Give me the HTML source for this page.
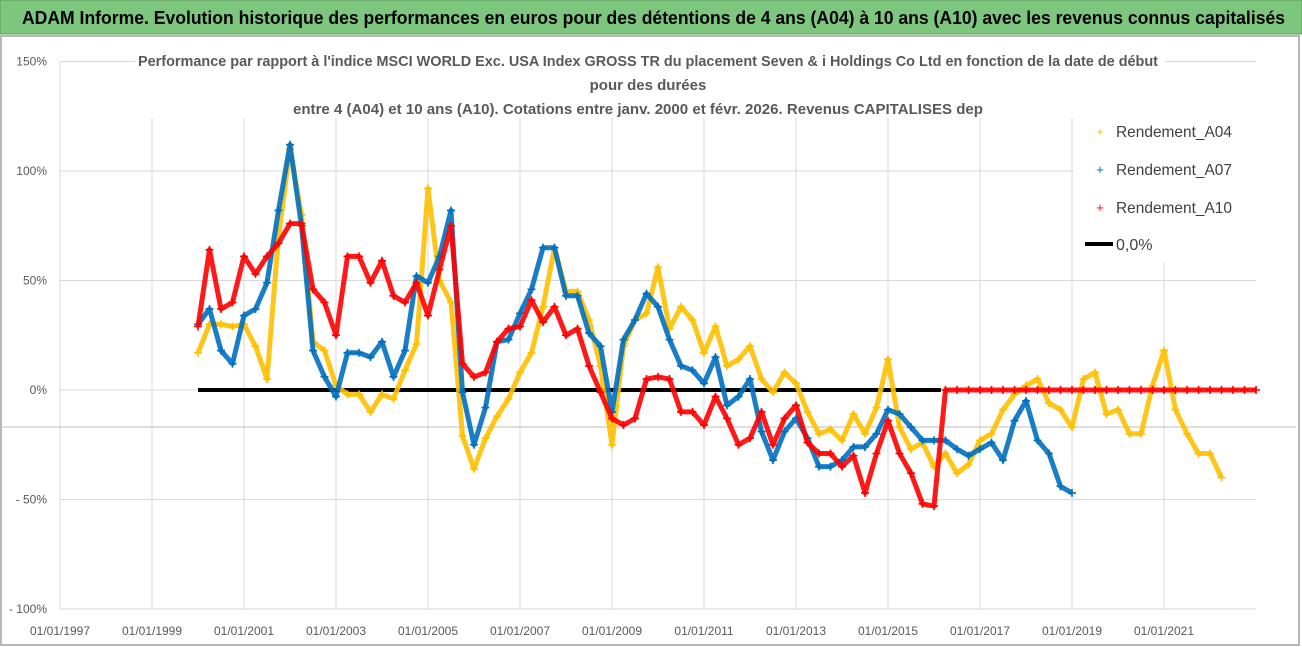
<!DOCTYPE html>
<html>
<head>
<meta charset="utf-8">
<style>
  html, body { margin: 0; padding: 0; background: #fff; }
  svg { display: block; font-family: "Liberation Sans", sans-serif; }
</style>
</head>
<body>
<svg id="chart" width="1302" height="647" viewBox="0 0 1302 647" xmlns="http://www.w3.org/2000/svg">
  <rect x="0" y="0" width="1302" height="647" fill="#fff"/>
  <rect x="0" y="0" width="1302" height="34" fill="#7dc67d" stroke="#5a9a5a" stroke-width="1"/>
  <text x="22" y="24" font-size="18" font-weight="bold" fill="#000" textLength="1263" lengthAdjust="spacingAndGlyphs">ADAM Informe. Evolution historique des performances en euros pour des détentions de 4 ans (A04) à 10 ans (A10) avec les revenus connus capitalisés</text>
  <rect x="1" y="36" width="1298" height="609" fill="none" stroke="#a0a0a0" stroke-width="1.5"/>
  <g id="grid"></g>
  <line x1="0" y1="427" x2="1296" y2="427" stroke="#bdbdbd" stroke-width="1"/>
  <g id="title" font-size="15" font-weight="bold" fill="#595959" text-anchor="middle">
    <rect x="135" y="46" width="1030" height="72" fill="#fff"/>
    <text x="648" y="66" textLength="1020" lengthAdjust="spacingAndGlyphs">Performance par rapport à l'indice MSCI WORLD Exc. USA Index GROSS TR  du placement Seven &amp; i Holdings Co Ltd en fonction de la date de début</text>
    <text x="648" y="90">pour des durées</text>
    <text x="638" y="114" font-size="15" textLength="690" lengthAdjust="spacingAndGlyphs">entre 4 (A04) et 10 ans (A10).  Cotations entre janv. 2000 et févr. 2026. Revenus CAPITALISES dep</text>
  </g>
  <g id="axes"></g>
  <g id="series"></g>
  <g id="legend">
    <rect x="1074" y="112" width="224" height="150" fill="#fff"/>
    <g>
      <text x="1100" y="136" font-size="13" fill="#ffc000" text-anchor="middle">+</text>
      <text x="1116" y="137" font-size="16" fill="#404040" textLength="116" lengthAdjust="spacingAndGlyphs">Rendement_A04</text>
    </g>
    <g>
      <text x="1100" y="174" font-size="13" fill="#0070c0" text-anchor="middle">+</text>
      <text x="1116" y="175" font-size="16" fill="#404040" textLength="116" lengthAdjust="spacingAndGlyphs">Rendement_A07</text>
    </g>
    <g>
      <text x="1100" y="212" font-size="13" fill="#ff0000" text-anchor="middle">+</text>
      <text x="1116" y="213" font-size="16" fill="#404040" textLength="116" lengthAdjust="spacingAndGlyphs">Rendement_A10</text>
    </g>
    <g>
      <line x1="1085" y1="244" x2="1113" y2="244" stroke="#000" stroke-width="4"/>
      <text x="1116" y="250" font-size="16" fill="#404040">0,0%</text>
    </g>
  </g>
</svg>
<script>
const xTickYears = [1997, 1999, 2001, 2003, 2005, 2007, 2009, 2011, 2013, 2015, 2017, 2019, 2021];
const yTicks = [150, 100, 50, 0, -50, -100];
const yTickLabels = ["150%", "100%", "50%", "0%", "- 50%", "- 100%"];
const startYear = 2000.0;
const stepYears = 0.25;
const a04 = [17,30,30,29,30,20,5,70,110,80,22,18,2,-2,-2,-10,-2,-4,9,21,92,50,40,-21,-36,-22,-12,-4,8,17,38,65,45,45,32,11,-25,20,32,35,56,28,38,32,17,29,11,14,20,5,-1,8,3,-10,-20,-18,-23,-11,-20,-8,14,-17,-27,-24,-35,-29,-38,-34,-23,-20,-9,-2,2,5,-6,-9,-17,5,8,-11,-9,-20,-20,2,18,-9,-20,-29,-29,-40];
const a07 = [30,37,18,12,34,37,49,82,112,75,18,6,-3,17,17,15,22,6,18,52,49,61,82,-1,-25,-8,22,23,35,46,65,65,43,43,26,20,-10,23,32,44,38,23,11,9,3,15,-7,-3,5,-19,-32,-19,-13,-22,-35,-35,-32,-26,-26,-20,-9,-11,-17,-23,-23,-23,-27,-30,-27,-24,-32,-14,-5,-23,-29,-44,-47];
const a10 = [29,64,37,40,61,53,61,67,76,76,46,40,25,61,61,49,59,43,40,49,34,55,75,12,6,8,22,28,29,41,31,38,25,28,11,-1,-13,-16,-13,5,6,5,-10,-10,-16,-3,-13,-25,-22,-10,-25,-13,-7,-24,-29,-29,-35,-30,-47,-29,-14,-29,-38,-52,-53,0,0,0,0,0,0,0,0,0,0,0,0,0,0,0,0,0,0,0,0,0,0,0,0,0,0,0,0];
const zeroLineStart = 2000.0;
const zeroLineEnd = 2016.15;
const zeroValue = 0;

const X0 = 60, PXY = 46, Y0 = 390, PXV = 2.19, XMIN = 1997, XMAX = 2023;
function xScale(yr) { return X0 + (yr - XMIN) * PXY; }
function yScale(v) { return Y0 - v * PXV; }
const NS = "http://www.w3.org/2000/svg";
function mk(tag, attrs, parent) {
  const e = document.createElementNS(NS, tag);
  for (const k in attrs) e.setAttribute(k, attrs[k]);
  parent.appendChild(e);
  return e;
}
const grid = document.getElementById('grid');
const axes = document.getElementById('axes');
yTicks.forEach((v, i) => {
  const l = mk('line', {x1: xScale(XMIN), x2: xScale(XMAX), y1: yScale(v), y2: yScale(v), stroke: '#d9d9d9', 'stroke-width': 1}, grid);
  
  
  const t = mk('text', {x: 47, y: yScale(v) + 4, 'font-size': 12, fill: '#595959', 'text-anchor': 'end'}, axes);
  t.textContent = yTickLabels[i];
  
  
});
xTickYears.forEach(yr => {
  const l = mk('line', {x1: xScale(yr), x2: xScale(yr), y1: yScale(150), y2: yScale(-100), stroke: '#d9d9d9', 'stroke-width': 1}, grid);
  
  
  const t = mk('text', {x: xScale(yr), y: 635, 'font-size': 12, fill: '#595959', 'text-anchor': 'middle'}, axes);
  t.textContent = '01/01/' + yr;
  
  
});
const series = document.getElementById('series');
const zl = mk('line', {x1: xScale(zeroLineStart), x2: xScale(zeroLineEnd), y1: yScale(zeroValue), y2: yScale(zeroValue), stroke: '#000', 'stroke-width': 4}, series);


function drawSeries(vals, color, name) {
  const g = mk('g', {}, series);
  
  
  const pts = vals.map((v, i) => xScale(startYear + i * stepYears).toFixed(1) + ',' + yScale(v).toFixed(1)).join(' ');
  const pl = mk('polyline', {points: pts, fill: 'none', stroke: color, 'stroke-width': 5, 'stroke-linejoin': 'round', 'stroke-opacity': 0.9}, g);
  
  
  vals.forEach((v, i) => {
    const cx = xScale(startYear + i * stepYears), cy = yScale(v);
    const p = mk('path', {d: `M${cx - 4},${cy}h8M${cx},${cy - 4}v8`, stroke: color, 'stroke-width': 1.6, fill: 'none'}, g);
    
    
  });
}
drawSeries(a04, '#ffc000', 'series-a04');
drawSeries(a07, '#0070c0', 'series-a07');
drawSeries(a10, '#ff0000', 'series-a10');
</script>
</body>
</html>
